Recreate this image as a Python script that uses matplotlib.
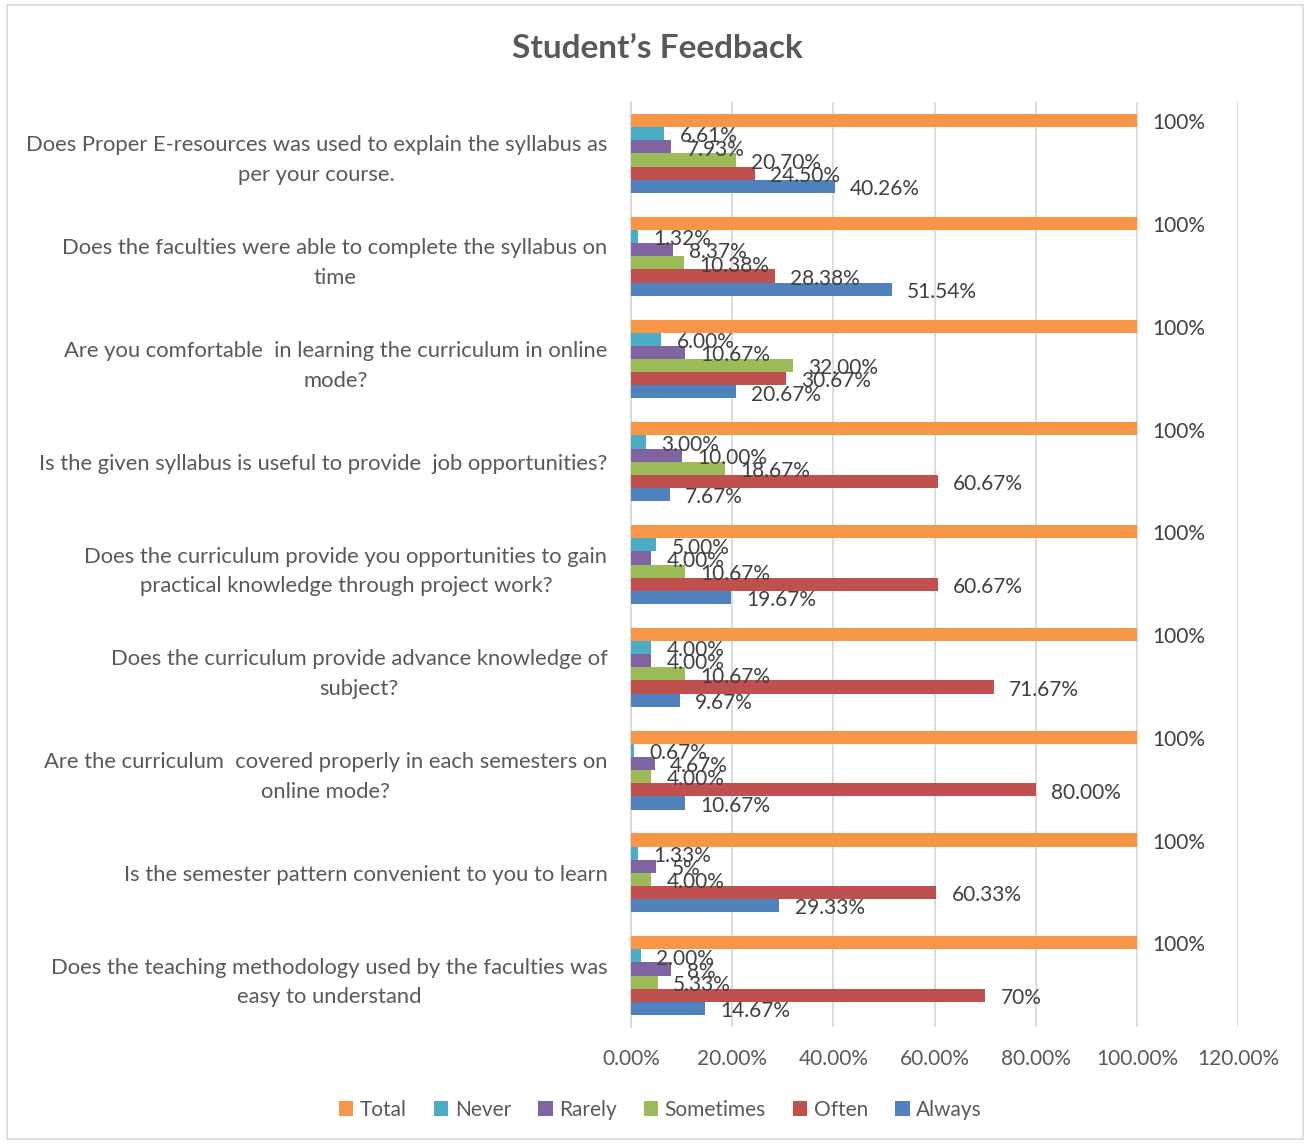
import numpy as np
import matplotlib.pyplot as plt
from matplotlib.patches import Rectangle

# ---------------------------------------------------------------------------
# Data (percent), categories listed top to bottom
# ---------------------------------------------------------------------------
questions = [
    "Does Proper E-resources was used to explain the syllabus as\nper your course.",
    "Does the faculties were able to complete the syllabus on\ntime",
    "Are you comfortable  in learning the curriculum in online\nmode?",
    "Is the given syllabus is useful to provide  job opportunities?",
    "Does the curriculum provide you opportunities to gain\npractical knowledge through project work?",
    "Does the curriculum provide advance knowledge of\nsubject?",
    "Are the curriculum  covered properly in each semesters on\nonline mode?",
    "Is the semester pattern convenient to you to learn",
    "Does the teaching methodology used by the faculties was\neasy to understand",
]

total = [100, 100, 100, 100, 100, 100, 100, 100, 100]
never = [6.61, 1.32, 6.00, 3.00, 5.00, 4.00, 0.67, 1.33, 2.00]
rarely = [7.93, 8.37, 10.67, 10.00, 4.00, 4.00, 4.67, 5, 8]
sometimes = [20.70, 10.38, 32.00, 18.67, 10.67, 10.67, 4.00, 4.00, 5.33]
often = [24.50, 28.38, 30.67, 60.67, 60.67, 71.67, 80.00, 60.33, 70]
always = [40.26, 51.54, 20.67, 7.67, 19.67, 9.67, 10.67, 29.33, 14.67]

# data label text as shown in the chart
total_labels = ["100%"] * 9
never_labels = ["6.61%", "1.32%", "6.00%", "3.00%", "5.00%", "4.00%", "0.67%", "1.33%", "2.00%"]
rarely_labels = ["7.93%", "8.37%", "10.67%", "10.00%", "4.00%", "4.00%", "4.67%", "5%", "8%"]
sometimes_labels = ["20.70%", "10.38%", "32.00%", "18.67%", "10.67%", "10.67%", "4.00%", "4.00%", "5.33%"]
often_labels = ["24.50%", "28.38%", "30.67%", "60.67%", "60.67%", "71.67%", "80.00%", "60.33%", "70%"]
always_labels = ["40.26%", "51.54%", "20.67%", "7.67%", "19.67%", "9.67%", "10.67%", "29.33%", "14.67%"]

x_ticks = [0, 20, 40, 60, 80, 100, 120]
x_tick_labels = ["0.00%", "20.00%", "40.00%", "60.00%", "80.00%", "100.00%", "120.00%"]

# top-to-bottom order inside each group (matches legend order)
series = [
    ("Total", total, total_labels, "#F79646"),
    ("Never", never, never_labels, "#4BACC6"),
    ("Rarely", rarely, rarely_labels, "#8064A2"),
    ("Sometimes", sometimes, sometimes_labels, "#9BBB59"),
    ("Often", often, often_labels, "#C0504D"),
    ("Always", always, always_labels, "#4F81BD"),
]

plt.rcParams['font.family'] = ['Lato', 'DejaVu Sans']
text_col = '#404040'
grey = '#595959'

fig = plt.figure(figsize=(13.1, 11.44), dpi=100)
fig.patches.append(Rectangle((0.005, 0.004), 0.99, 0.992, transform=fig.transFigure,
                             fill=False, edgecolor='#d9d9d9', linewidth=1.2))

ax = fig.add_axes([0.4817, 0.1023, 0.4634, 0.8085])

y = np.arange(len(questions))
h = 0.128
for i, (name, vals, labs, col) in enumerate(series):
    pos = y + (i - 2.5) * h
    ax.barh(pos, vals, height=h, color=col, label=name, zorder=3)
    for yy, v, lab in zip(pos, vals, labs):
        ax.annotate(lab, (v, yy), xytext=(11, -2), textcoords='offset points',
                    ha='left', va='center', fontsize=15, color=text_col, zorder=4)

ax.set_ylim(len(questions) - 0.5, -0.5)
ax.set_xlim(0, 120)
ax.set_xticks(x_ticks)
ax.set_xticklabels(x_tick_labels)
ax.set_yticks(y)
ax.set_yticklabels(questions, multialignment='center', linespacing=1.6, fontsize=15.8)

ax.grid(axis='x', color='#d9d9d9', linewidth=1.3, zorder=0)
for s in ['top', 'right', 'bottom']:
    ax.spines[s].set_visible(False)
ax.spines['left'].set_color('#d9d9d9')
ax.spines['left'].set_linewidth(1.3)
ax.tick_params(axis='both', length=0, labelcolor=grey)
ax.tick_params(axis='x', labelsize=15, pad=16)
ax.tick_params(axis='y', pad=17)

fig.text(0.502, 0.958, "Student\u2019s Feedback", ha='center', va='center',
         fontsize=24, fontweight='bold', color=grey)

handles, labels = ax.get_legend_handles_labels()
fig.legend(handles, labels, loc='center', bbox_to_anchor=(0.504, 0.0297), ncol=6,
           frameon=False, fontsize=15, handlelength=0.7, handleheight=0.7,
           handletextpad=0.3, columnspacing=1.3, labelcolor=grey)

fig.savefig('out.png', dpi=100)
